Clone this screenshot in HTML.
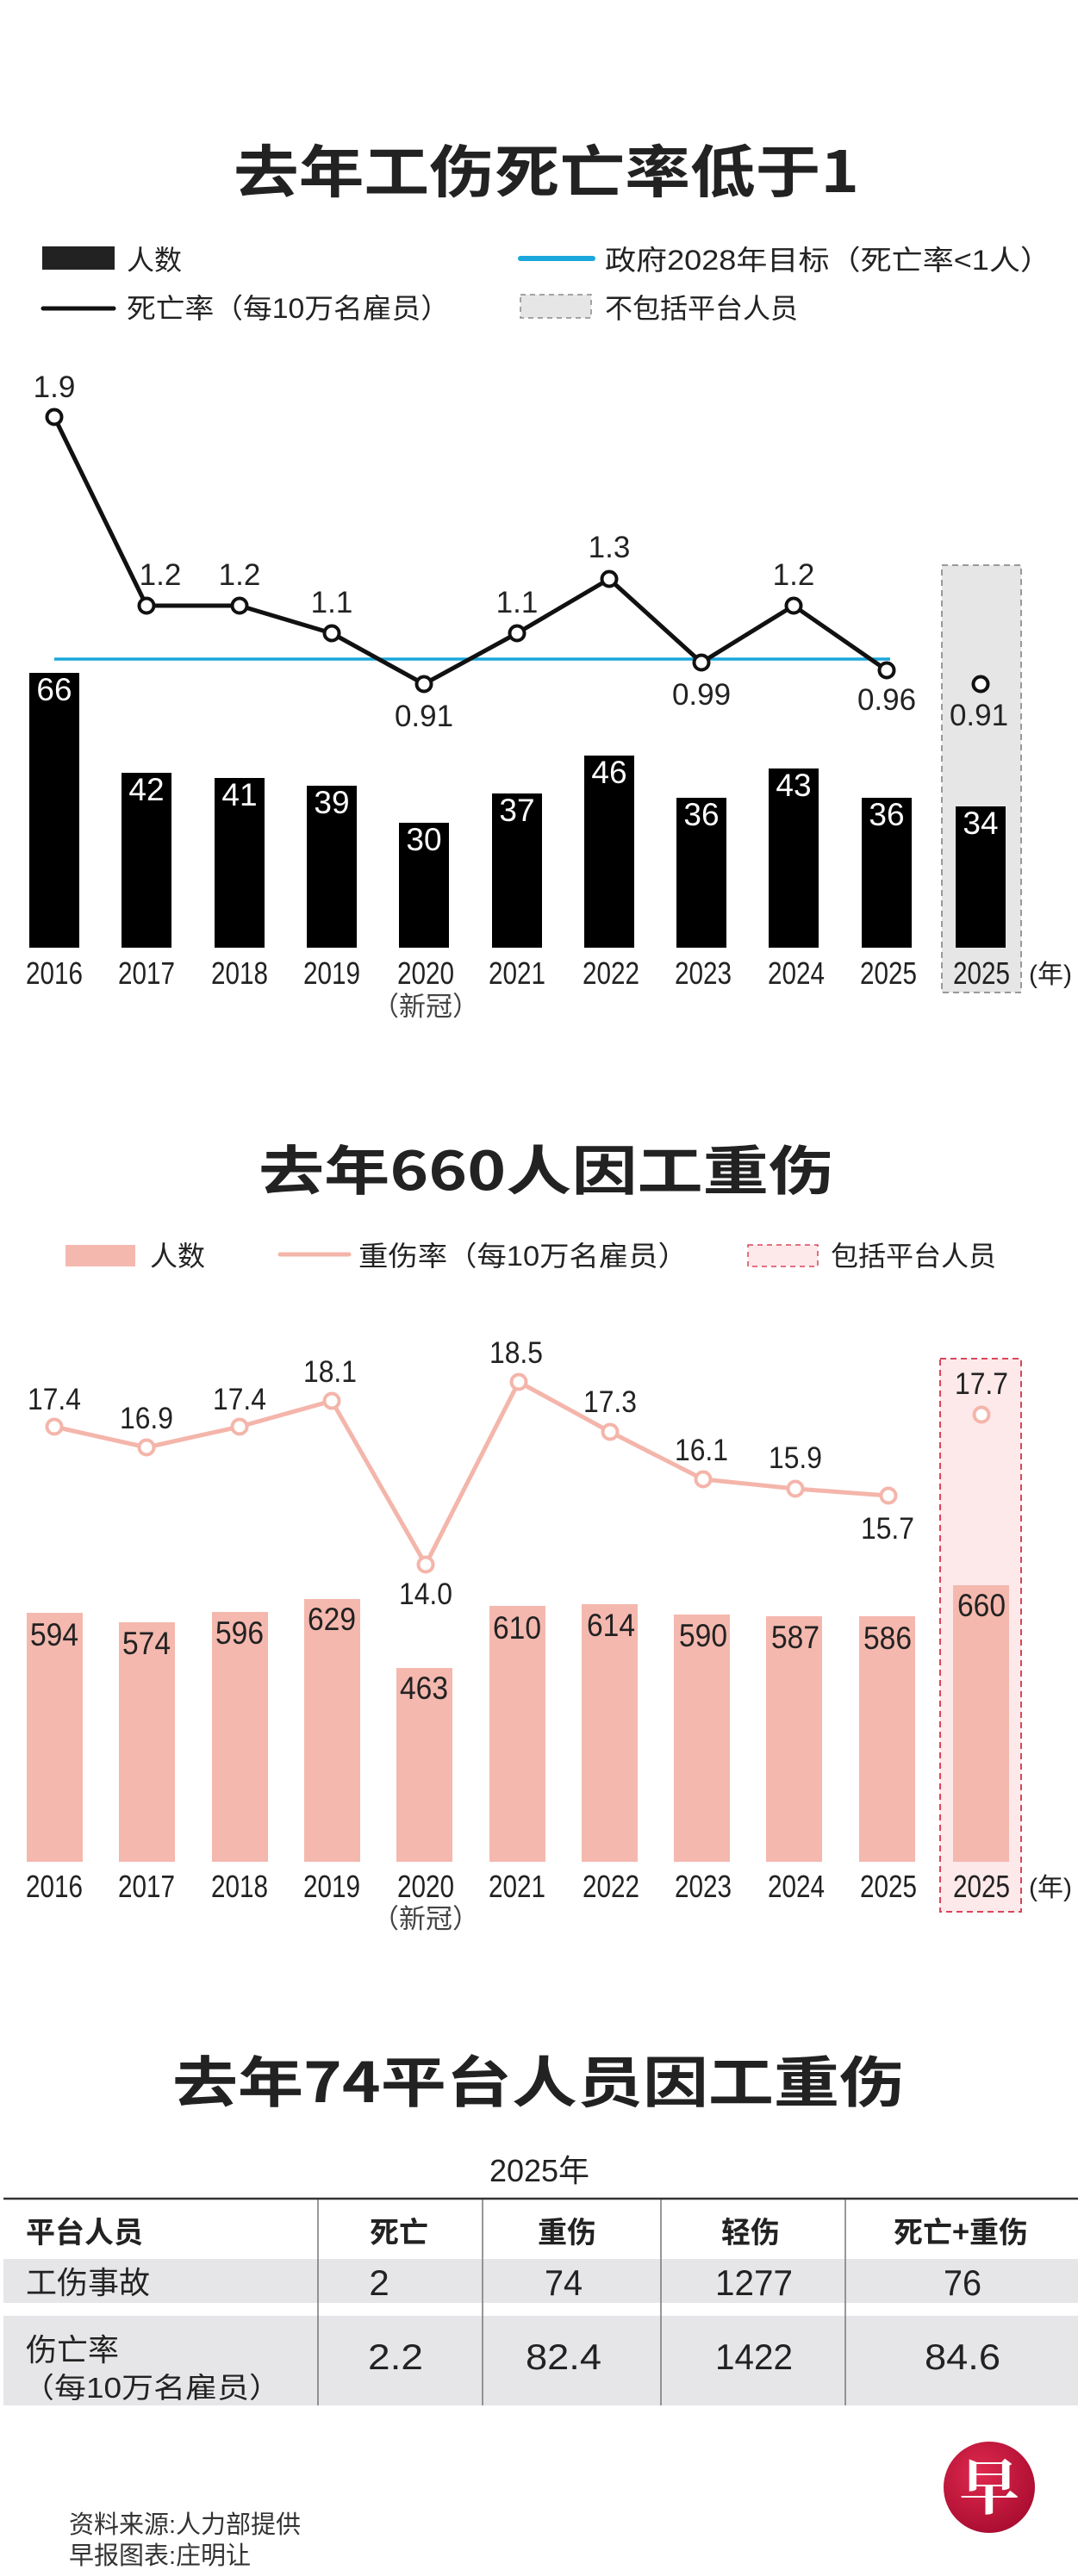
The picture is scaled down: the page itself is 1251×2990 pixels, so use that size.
<!DOCTYPE html>
<html><head><meta charset="utf-8"><style>
html,body{margin:0;padding:0;background:#fff;}
svg{display:block;}
text{font-family:"Liberation Sans","Noto Sans CJK SC",sans-serif;fill:#222;}
.t{font-weight:bold;font-family:"Noto Sans CJK SC","Liberation Sans",sans-serif;}
</style></head><body>
<svg width="1251" height="2990" viewBox="0 0 1251 2990" xmlns="http://www.w3.org/2000/svg">
<rect width="1251" height="2990" fill="#fff"/>
<!-- Chart 1 -->
<text class="t" x="634" y="223" font-size="66" text-anchor="middle" textLength="726" lengthAdjust="spacingAndGlyphs">去年工伤死亡率低于1</text>
<rect x="49" y="286" width="84" height="27" fill="#222"/>
<text x="147" y="313" font-size="32">人数</text>
<line x1="50" y1="358" x2="132" y2="358" stroke="#111" stroke-width="5" stroke-linecap="round"/>
<text x="147" y="369" font-size="32" textLength="375" lengthAdjust="spacingAndGlyphs">死亡率（每10万名雇员）</text>
<line x1="604" y1="300" x2="688" y2="300" stroke="#1aa7dc" stroke-width="6" stroke-linecap="round"/>
<text x="702" y="313" font-size="32" textLength="518" lengthAdjust="spacingAndGlyphs">政府2028年目标（死亡率&lt;1人）</text>
<rect x="604" y="342" width="82" height="27" fill="#e6e6e6" stroke="#888" stroke-width="1.5" stroke-dasharray="6,5"/>
<text x="702" y="369" font-size="32">不包括平台人员</text>

<rect x="1093" y="656" width="92" height="496" fill="#e6e6e6" stroke="#999" stroke-width="2" stroke-dasharray="7,5"/>
<g fill="#000">
<rect x="34" y="781" width="58" height="319"/>
<rect x="141" y="897" width="58" height="203"/>
<rect x="249" y="903" width="58" height="197"/>
<rect x="356" y="912" width="58" height="188"/>
<rect x="463" y="955" width="58" height="145"/>
<rect x="571" y="921" width="58" height="179"/>
<rect x="678" y="877" width="58" height="223"/>
<rect x="785" y="926" width="58" height="174"/>
<rect x="892" y="892" width="58" height="208"/>
<rect x="1000" y="926" width="58" height="174"/>
<rect x="1109" y="936" width="58" height="164"/>
</g>
<g font-size="37" text-anchor="middle">
<text x="63" y="813" style="fill:#fff">66</text>
<text x="170" y="929" style="fill:#fff">42</text>
<text x="278" y="935" style="fill:#fff">41</text>
<text x="385" y="944" style="fill:#fff">39</text>
<text x="492" y="987" style="fill:#fff">30</text>
<text x="600" y="953" style="fill:#fff">37</text>
<text x="707" y="909" style="fill:#fff">46</text>
<text x="814" y="958" style="fill:#fff">36</text>
<text x="921" y="924" style="fill:#fff">43</text>
<text x="1029" y="958" style="fill:#fff">36</text>
<text x="1138" y="968" style="fill:#fff">34</text>
</g>
<line x1="63" y1="765" x2="1033" y2="765" stroke="#1aa7dc" stroke-width="3.5"/>
<polyline points="63,484 170,703 278,703 385,735 492,794 600,735 707,672 814,769 921,703 1029,778" fill="none" stroke="#111" stroke-width="5" stroke-linejoin="round"/>
<g fill="#fff" stroke="#111" stroke-width="4">
<circle cx="63" cy="484" r="8.5"/><circle cx="170" cy="703" r="8.5"/><circle cx="278" cy="703" r="8.5"/><circle cx="385" cy="735" r="8.5"/><circle cx="492" cy="794" r="8.5"/><circle cx="600" cy="735" r="8.5"/><circle cx="707" cy="672" r="8.5"/><circle cx="814" cy="769" r="8.5"/><circle cx="921" cy="703" r="8.5"/><circle cx="1029" cy="778" r="8.5"/><circle cx="1138" cy="794" r="8.5"/>
</g>
<g font-size="35" text-anchor="middle">
<text x="63" y="461">1.9</text>
<text x="186" y="679">1.2</text>
<text x="278" y="679">1.2</text>
<text x="385" y="711">1.1</text>
<text x="492" y="843">0.91</text>
<text x="600" y="711">1.1</text>
<text x="707" y="647">1.3</text>
<text x="814" y="818">0.99</text>
<text x="921" y="679">1.2</text>
<text x="1029" y="824">0.96</text>
<text x="1136" y="842">0.91</text>
</g>
<g font-size="36" text-anchor="middle">
<text x="63" y="1142" textLength="66" lengthAdjust="spacingAndGlyphs">2016</text>
<text x="170" y="1142" textLength="66" lengthAdjust="spacingAndGlyphs">2017</text>
<text x="278" y="1142" textLength="66" lengthAdjust="spacingAndGlyphs">2018</text>
<text x="385" y="1142" textLength="66" lengthAdjust="spacingAndGlyphs">2019</text>
<text x="494" y="1142" textLength="66" lengthAdjust="spacingAndGlyphs">2020</text>
<text x="600" y="1142" textLength="66" lengthAdjust="spacingAndGlyphs">2021</text>
<text x="709" y="1142" textLength="66" lengthAdjust="spacingAndGlyphs">2022</text>
<text x="816" y="1142" textLength="66" lengthAdjust="spacingAndGlyphs">2023</text>
<text x="924" y="1142" textLength="66" lengthAdjust="spacingAndGlyphs">2024</text>
<text x="1031" y="1142" textLength="66" lengthAdjust="spacingAndGlyphs">2025</text>
<text x="1139" y="1142" textLength="66" lengthAdjust="spacingAndGlyphs">2025</text>
</g>
<text x="1219" y="1141" font-size="30" text-anchor="middle">(年)</text>
<text x="494" y="1179" font-size="31" text-anchor="middle" style="fill:#444">（新冠）</text>

<!-- Chart 2 -->
<text class="t" x="634" y="1381" font-size="62" text-anchor="middle" textLength="668" lengthAdjust="spacingAndGlyphs">去年660人因工重伤</text>
<rect x="76" y="1445" width="81" height="25" fill="#f4b8ae"/>
<text x="174" y="1469" font-size="32">人数</text>
<line x1="325" y1="1456" x2="405" y2="1456" stroke="#f4b5aa" stroke-width="5" stroke-linecap="round"/>
<text x="416" y="1469" font-size="32" textLength="382" lengthAdjust="spacingAndGlyphs">重伤率（每10万名雇员）</text>
<rect x="868" y="1445" width="81" height="25" fill="#fde8ea" stroke="#d9465a" stroke-width="1.5" stroke-dasharray="6,5"/>
<text x="964" y="1469" font-size="32">包括平台人员</text>

<rect x="1091" y="1577" width="94" height="642" fill="#fde8ea" stroke="#d9465a" stroke-width="2" stroke-dasharray="7,5"/>
<g fill="#f4b8ae">
<rect x="31" y="1872" width="65" height="289"/>
<rect x="138" y="1883" width="65" height="278"/>
<rect x="246" y="1871" width="65" height="290"/>
<rect x="353" y="1856" width="65" height="305"/>
<rect x="460" y="1936" width="65" height="225"/>
<rect x="568" y="1864" width="65" height="297"/>
<rect x="675" y="1862" width="65" height="299"/>
<rect x="782" y="1874" width="65" height="287"/>
<rect x="889" y="1876" width="65" height="285"/>
<rect x="997" y="1876" width="65" height="285"/>
<rect x="1106" y="1840" width="65" height="321"/>
</g>
<g font-size="37" text-anchor="middle">
<text x="63" y="1910" textLength="56" lengthAdjust="spacingAndGlyphs">594</text>
<text x="170" y="1920" textLength="56" lengthAdjust="spacingAndGlyphs">574</text>
<text x="278" y="1908" textLength="56" lengthAdjust="spacingAndGlyphs">596</text>
<text x="385" y="1892" textLength="56" lengthAdjust="spacingAndGlyphs">629</text>
<text x="492" y="1972" textLength="56" lengthAdjust="spacingAndGlyphs">463</text>
<text x="600" y="1902" textLength="56" lengthAdjust="spacingAndGlyphs">610</text>
<text x="709" y="1899" textLength="56" lengthAdjust="spacingAndGlyphs">614</text>
<text x="816" y="1911" textLength="56" lengthAdjust="spacingAndGlyphs">590</text>
<text x="923" y="1913" textLength="56" lengthAdjust="spacingAndGlyphs">587</text>
<text x="1030" y="1914" textLength="56" lengthAdjust="spacingAndGlyphs">586</text>
<text x="1139" y="1876" textLength="56" lengthAdjust="spacingAndGlyphs">660</text>
</g>
<polyline points="63,1656 170,1680 278,1656 385,1626 494,1816 602,1604 708,1662 816,1717 923,1728 1031,1736" fill="none" stroke="#f4b5aa" stroke-width="5" stroke-linejoin="round"/>
<g fill="#fff" stroke="#f4b5aa" stroke-width="4">
<circle cx="63" cy="1656" r="8.5"/><circle cx="170" cy="1680" r="8.5"/><circle cx="278" cy="1656" r="8.5"/><circle cx="385" cy="1626" r="8.5"/><circle cx="494" cy="1816" r="8.5"/><circle cx="602" cy="1604" r="8.5"/><circle cx="708" cy="1662" r="8.5"/><circle cx="816" cy="1717" r="8.5"/><circle cx="923" cy="1728" r="8.5"/><circle cx="1031" cy="1736" r="8.5"/><circle cx="1139" cy="1642" r="8.5"/>
</g>
<g font-size="35" text-anchor="middle">
<text x="63" y="1636" textLength="62" lengthAdjust="spacingAndGlyphs">17.4</text>
<text x="170" y="1658" textLength="62" lengthAdjust="spacingAndGlyphs">16.9</text>
<text x="278" y="1636" textLength="62" lengthAdjust="spacingAndGlyphs">17.4</text>
<text x="383" y="1604" textLength="62" lengthAdjust="spacingAndGlyphs">18.1</text>
<text x="494" y="1862" textLength="62" lengthAdjust="spacingAndGlyphs">14.0</text>
<text x="599" y="1582" textLength="62" lengthAdjust="spacingAndGlyphs">18.5</text>
<text x="708" y="1639" textLength="62" lengthAdjust="spacingAndGlyphs">17.3</text>
<text x="814" y="1695" textLength="62" lengthAdjust="spacingAndGlyphs">16.1</text>
<text x="923" y="1704" textLength="62" lengthAdjust="spacingAndGlyphs">15.9</text>
<text x="1030" y="1786" textLength="62" lengthAdjust="spacingAndGlyphs">15.7</text>
<text x="1139" y="1618" textLength="62" lengthAdjust="spacingAndGlyphs">17.7</text>
</g>
<g font-size="36" text-anchor="middle">
<text x="63" y="2202" textLength="66" lengthAdjust="spacingAndGlyphs">2016</text>
<text x="170" y="2202" textLength="66" lengthAdjust="spacingAndGlyphs">2017</text>
<text x="278" y="2202" textLength="66" lengthAdjust="spacingAndGlyphs">2018</text>
<text x="385" y="2202" textLength="66" lengthAdjust="spacingAndGlyphs">2019</text>
<text x="494" y="2202" textLength="66" lengthAdjust="spacingAndGlyphs">2020</text>
<text x="600" y="2202" textLength="66" lengthAdjust="spacingAndGlyphs">2021</text>
<text x="709" y="2202" textLength="66" lengthAdjust="spacingAndGlyphs">2022</text>
<text x="816" y="2202" textLength="66" lengthAdjust="spacingAndGlyphs">2023</text>
<text x="924" y="2202" textLength="66" lengthAdjust="spacingAndGlyphs">2024</text>
<text x="1031" y="2202" textLength="66" lengthAdjust="spacingAndGlyphs">2025</text>
<text x="1139" y="2202" textLength="66" lengthAdjust="spacingAndGlyphs">2025</text>
</g>
<text x="1219" y="2201" font-size="30" text-anchor="middle">(年)</text>
<text x="494" y="2238" font-size="31" text-anchor="middle" style="fill:#444">（新冠）</text>

<!-- Table -->
<text class="t" x="625" y="2440" font-size="64" text-anchor="middle" textLength="850" lengthAdjust="spacingAndGlyphs">去年74平台人员因工重伤</text>
<text x="626" y="2532" font-size="36" text-anchor="middle">2025年</text>
<rect x="4" y="2622" width="1247" height="51" fill="#e6e6e8"/>
<rect x="4" y="2688" width="1247" height="104" fill="#e6e6e8"/>
<line x1="4" y1="2552" x2="1251" y2="2552" stroke="#333" stroke-width="2.5"/>
<g stroke="#777" stroke-width="1.5">
<line x1="369" y1="2553" x2="369" y2="2792"/>
<line x1="560" y1="2553" x2="560" y2="2792"/>
<line x1="767" y1="2553" x2="767" y2="2792"/>
<line x1="981" y1="2553" x2="981" y2="2792"/>
</g>
<g font-size="34">
<text class="t" x="30" y="2603">平台人员</text>
<text class="t" x="463" y="2603" text-anchor="middle">死亡</text>
<text class="t" x="658" y="2603" text-anchor="middle">重伤</text>
<text class="t" x="871" y="2603" text-anchor="middle">轻伤</text>
<text class="t" x="1115" y="2603" text-anchor="middle">死亡+重伤</text>
</g>
<text x="30" y="2662" font-size="36">工伤事故</text>
<text x="30" y="2740" font-size="36">伤亡率</text>
<text x="26" y="2783" font-size="33" textLength="300" lengthAdjust="spacingAndGlyphs">（每10万名雇员）</text>
<g font-size="42" text-anchor="middle">
<text x="440" y="2664">2</text>
<text x="654" y="2664" textLength="44" lengthAdjust="spacingAndGlyphs">74</text>
<text x="875" y="2664" textLength="90" lengthAdjust="spacingAndGlyphs">1277</text>
<text x="1117" y="2664" textLength="44" lengthAdjust="spacingAndGlyphs">76</text>
<text x="459" y="2750" textLength="64" lengthAdjust="spacingAndGlyphs">2.2</text>
<text x="654" y="2750" textLength="88" lengthAdjust="spacingAndGlyphs">82.4</text>
<text x="875" y="2750" textLength="90" lengthAdjust="spacingAndGlyphs">1422</text>
<text x="1117" y="2750" textLength="88" lengthAdjust="spacingAndGlyphs">84.6</text>
</g>
<text x="80" y="2940" font-size="29" style="fill:#333">资料来源:人力部提供</text>
<text x="80" y="2976" font-size="29" style="fill:#333">早报图表:庄明让</text>
<defs><radialGradient id="lg" cx="40%" cy="35%" r="70%"><stop offset="0" stop-color="#e0294e"/><stop offset="1" stop-color="#a80c30"/></radialGradient></defs>
<circle cx="1148" cy="2887" r="53" fill="url(#lg)"/>
<text x="1148" y="2912" font-size="70" font-weight="bold" text-anchor="middle" style="fill:#fff;font-family:'Noto Serif CJK SC','Noto Sans CJK SC',sans-serif">早</text>
</svg>
</body></html>
